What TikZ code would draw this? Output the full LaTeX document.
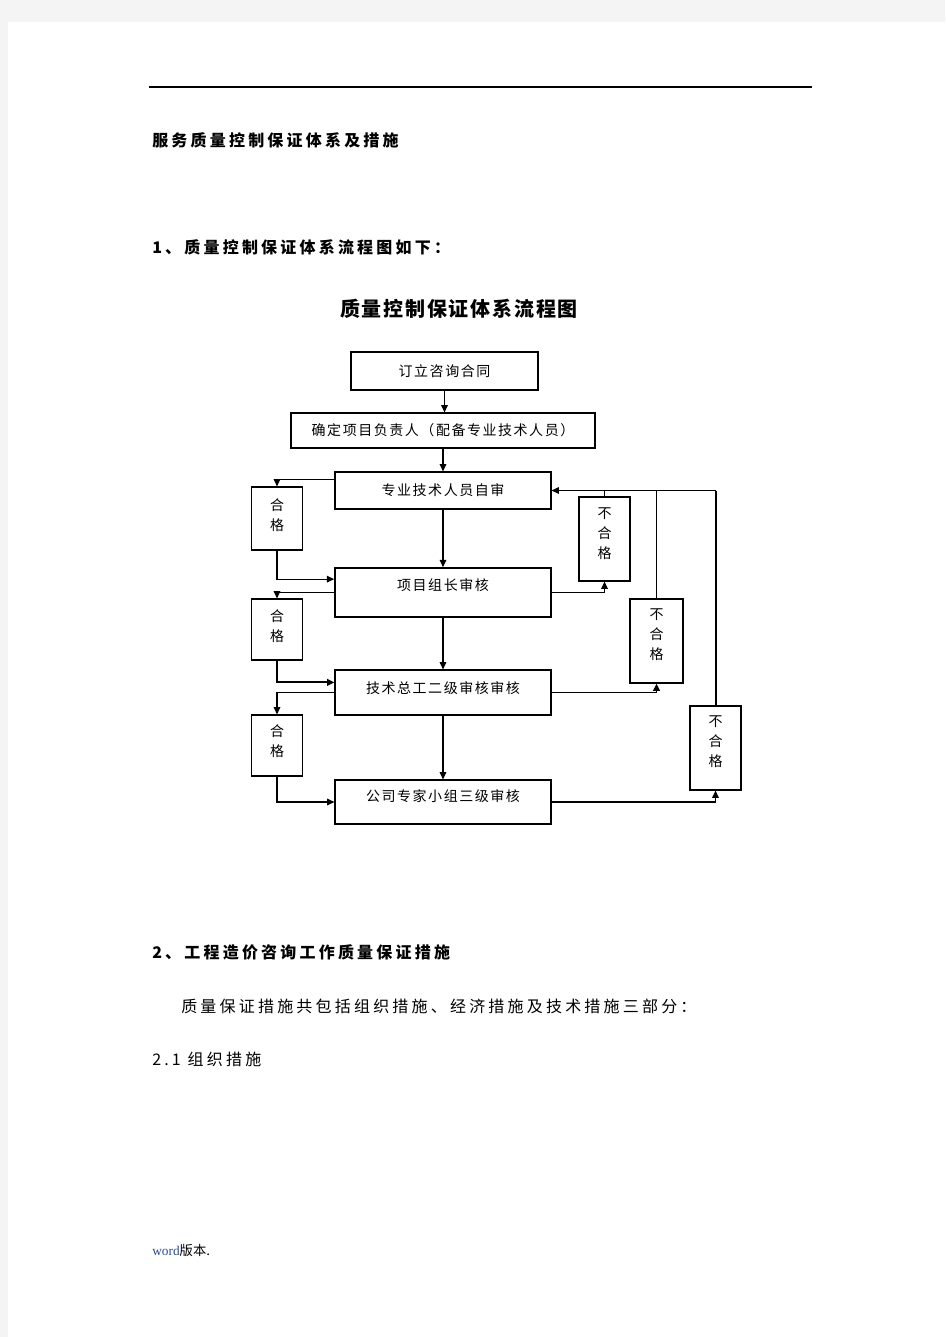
\documentclass[tikz,border=0pt]{standalone}
\usepackage{fontspec}
\setmainfont{Noto Sans CJK SC}
\newfontfamily\serifw{Liberation Serif}
\usetikzlibrary{arrows.meta}
\definecolor{pagegray}{HTML}{F4F4F4}
\definecolor{wordblue}{HTML}{2B4C8C}
\newcommand\hdfont{\fontsize{12}{14}\selectfont\bfseries\addfontfeature{LetterSpace=20}}
\newcommand\bodyfont{\fontsize{12}{14}\selectfont\addfontfeature{LetterSpace=20}}
\newcommand\chartfont{\fontsize{10.5}{15}\selectfont\addfontfeature{LetterSpace=11}}
\tikzset{
  box/.style={draw, line width=0.9pt, inner sep=0pt},
  conn/.style={line width=0.8pt, -{Triangle[length=5.5pt,width=5pt]}},
  plain/.style={line width=0.8pt},
  heavy/.style={line width=1.5pt},
  chart/.style={font=\chartfont, inner sep=0pt},
  vtext/.style={font=\chartfont, inner sep=0pt, align=center},
  para/.style={anchor=west, inner sep=0pt},
}
\begin{document}
\begin{tikzpicture}[x=0.75pt,y=-0.75pt]
\useasboundingbox (0,0) rectangle (945,1337);
\fill[pagegray] (0,0) rectangle (945,1337);
\fill[white] (8,22) rectangle (945,1337);
\draw[line width=1.1pt] (149,87) -- (812,87);

\node[para, font=\hdfont] (h1) at (152,140) {服务质量控制保证体系及措施};
\node[para, font=\hdfont] (h2) at (152,247) {1、质量控制保证体系流程图如下：};
\node[inner sep=0pt, font=\fontsize{15}{17}\selectfont\bfseries\addfontfeature{LetterSpace=9}] (title) at (459,309) {质量控制保证体系流程图};

% main boxes
\node[box, chart, minimum width=187*0.75pt, minimum height=38*0.75pt] (b1) at (444.5,371) {订立咨询合同};
\node[box, chart, minimum width=304*0.75pt, minimum height=35*0.75pt] (b2) at (443,430.5) {确定项目负责人（配备专业技术人员）};
\node[box, chart, minimum width=216*0.75pt, minimum height=37*0.75pt] (b3) at (443,490.5) {专业技术人员自审};
\node[box, line width=1.3pt, minimum width=216*0.75pt, minimum height=49*0.75pt] (b4) at (443,592.5) {};
\node[chart] (b4t) at (443,585) {项目组长审核};
\node[box, minimum width=216*0.75pt, minimum height=45*0.75pt] (b5) at (443,692.5) {};
\node[chart] (b5t) at (443,688) {技术总工二级审核审核};
\node[box, minimum width=216*0.75pt, minimum height=44*0.75pt] (b6) at (443,802) {};
\node[chart] (b6t) at (443,796) {公司专家小组三级审核};

% left pass boxes
\node[box, minimum width=51*0.75pt, minimum height=63*0.75pt] (L1) at (277,518.5) {};
\node[vtext] (L1t) at (277,515) {合\\格};
\node[box, minimum width=51*0.75pt, minimum height=61*0.75pt] (L2) at (277,629.5) {};
\node[vtext] (L2t) at (277,626) {合\\格};
\node[box, minimum width=51*0.75pt, minimum height=61*0.75pt] (L3) at (277,745.5) {};
\node[vtext] (L3t) at (277,741) {合\\格};

% right fail boxes
\node[box, minimum width=51*0.75pt, minimum height=84*0.75pt] (R1) at (604.5,539) {};
\node[vtext] (R1t) at (604.5,534) {不\\合\\格};
\node[box, minimum width=53*0.75pt, minimum height=84*0.75pt] (R2) at (656.5,641) {};
\node[vtext] (R2t) at (656.5,635) {不\\合\\格};
\node[box, minimum width=51*0.75pt, minimum height=84*0.75pt] (R3) at (715.5,748) {};
\node[vtext] (R3t) at (715.5,742) {不\\合\\格};

% main flow
\draw[conn] (b1.south) -- (b1.south |- b2.north);
\draw[conn] (b3.north |- b2.south) -- (b3.north);
\draw[conn] (b3.south) -- (b4.north);
\draw[conn] (b4.south) -- (b5.north);
\draw[conn] (b5.south) -- (b6.north);

% left side
\draw[conn] ([yshift=-6pt]b3.north west) -| (L1.north);
\draw[conn] (L1.south) |- ([yshift=-9pt]b4.north west);
\draw[conn] (b4.west) -| (L2.north);
\draw[conn, line width=1.4pt] (L2.south) |- ([yshift=-9.75pt]b5.north west);
\draw[conn] (b5.west) -| (L3.north);
\draw[conn] (L3.south) |- (b6.west);

% right side
\draw[conn] (b4.east) -| (R1.south);
\draw[plain] (R1.north) -- (R1.north |- b3.east);
\draw[conn, line width=1.4pt] (b5.east) -| (R2.south);
\draw[plain] (R2.north) -- (R2.north |- b3.east);
\draw[conn] (b6.east) -| (R3.south);
\draw[heavy] (R3.north) -- (R3.north |- b3.east);
\draw[conn] (R3.north |- b3.east) -- (b3.east);

\node[para, font=\hdfont] (s2) at (152,952) {2、工程造价咨询工作质量保证措施};
\node[para, font=\bodyfont] (p1) at (181,1006) {质量保证措施共包括组织措施、经济措施及技术措施三部分：};
\node[para, font=\bodyfont] (s21) at (152,1059) {2.1 组织措施};
\node[para, font=\fontsize{10}{12}\selectfont] (foot) at (152,1250) {{\serifw\color{wordblue}word}版本.};
\end{tikzpicture}
\end{document}
